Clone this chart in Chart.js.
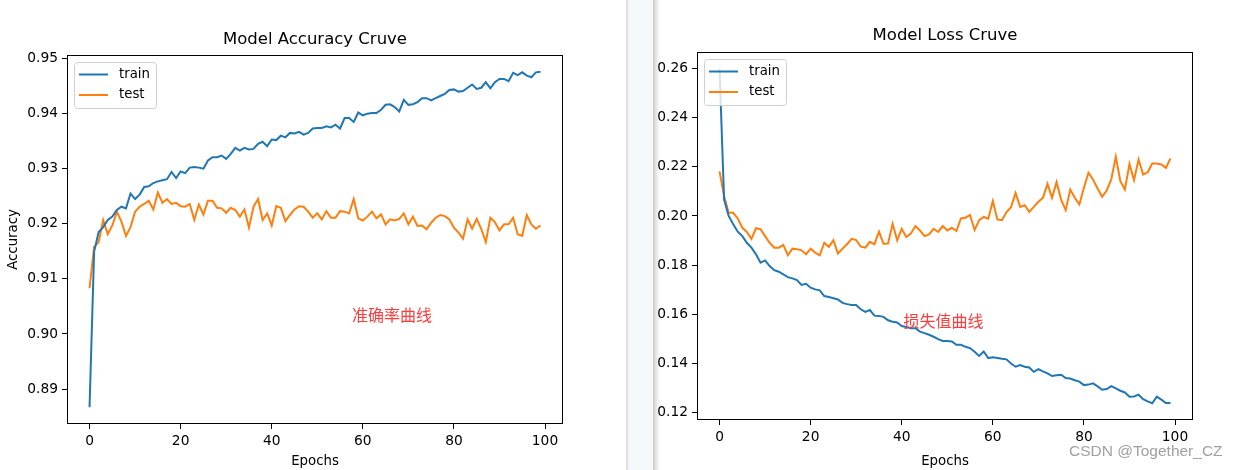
<!DOCTYPE html>
<html>
<head>
<meta charset="utf-8">
<script src="https://cdn.jsdelivr.net/npm/chart.js@4.4.0/dist/chart.umd.min.js"></script>
<style>
html, body { margin: 0; padding: 0; background: #fff; }
body { width: 1240px; height: 470px; position: relative; overflow: hidden; }
#sep { position: absolute; left: 626px; top: 0; width: 34px; height: 470px;
  background: linear-gradient(to right, #d4d7da 0px, #e9eef3 2px, #f6f9fc 4px, #f6f9fc 27px, #c8cacc 27px, #e4e4e4 30px, #ffffff 34px); }
#left { position: absolute; left: 0; top: 0; width: 627px; height: 470px; }
#right { position: absolute; left: 653px; top: 0; width: 587px; height: 470px; }
#mark { position: absolute; left: 1069px; top: 442px; font: 15.5px "Liberation Sans", Arial, sans-serif; color: #a0a0a0; }
</style>
</head>
<body>
<div id="sep"></div>
<div id="left"><canvas id="accChart"></canvas></div>
<div id="right"><canvas id="lossChart"></canvas></div>
<div id="mark">CSDN @Together_CZ</div>
<script>
// epochs 0..99
const epochs = [...Array(100).keys()];

const accTrain = [
  0.8867,0.9149,0.9185,0.9194,0.9207,0.9213,0.9225,0.9231,0.9228,0.9255,
  0.9245,0.9253,0.9267,0.9268,0.9274,0.9277,0.9279,0.9281,0.9294,0.9283,
  0.9295,0.9292,0.9302,0.9303,0.9302,0.9300,0.9315,0.9321,0.9321,0.9324,
  0.9318,0.9327,0.9338,0.9333,0.9338,0.9335,0.9336,0.9345,0.9349,0.9341,
  0.9353,0.9352,0.9360,0.9357,0.9365,0.9364,0.9367,0.9362,0.9365,0.9373,
  0.9374,0.9374,0.9377,0.9375,0.9380,0.9373,0.9392,0.9392,0.9385,0.9402,
  0.9397,0.9400,0.9401,0.9401,0.9407,0.9416,0.9417,0.9412,0.9404,0.9425,
  0.9416,0.9417,0.9421,0.9428,0.9428,0.9424,0.9428,0.9432,0.9436,0.9443,
  0.9444,0.9440,0.9441,0.9447,0.9453,0.9445,0.9447,0.9457,0.9446,0.9457,
  0.9463,0.9463,0.9459,0.9474,0.9470,0.9475,0.9469,0.9466,0.9475,0.9476
];
const accTest = [
  0.9083,0.9158,0.9167,0.9207,0.9181,0.9197,0.9222,0.9204,0.9178,0.9194,
  0.9222,0.9231,0.9236,0.9242,0.9226,0.9257,0.9238,0.9245,0.9236,0.9238,
  0.9232,0.9231,0.9236,0.9207,0.9235,0.9217,0.9242,0.9242,0.9229,0.9228,
  0.9220,0.9229,0.9225,0.9213,0.9226,0.9193,0.9231,0.9245,0.9207,0.9219,
  0.9197,0.9232,0.9229,0.9205,0.9216,0.9226,0.9232,0.9231,0.9222,0.9211,
  0.9219,0.9208,0.9223,0.9211,0.9211,0.9223,0.9222,0.9219,0.9245,0.9210,
  0.9206,0.9213,0.9222,0.9210,0.9217,0.9199,0.9208,0.9206,0.9209,0.9219,
  0.9199,0.9213,0.9196,0.9197,0.9190,0.9202,0.9211,0.9216,0.9214,0.9208,
  0.9193,0.9184,0.9173,0.9208,0.9191,0.9209,0.9191,0.9167,0.9211,0.9203,
  0.9188,0.9199,0.9199,0.9211,0.9181,0.9178,0.9216,0.9199,0.9191,0.9197
];
const lossTrain = [
  0.2600,0.2067,0.2000,0.1966,0.1936,0.1918,0.1891,0.1871,0.1844,0.1810,
  0.1819,0.1796,0.1779,0.1773,0.1762,0.1751,0.1746,0.1739,0.1719,0.1724,
  0.1708,0.1701,0.1697,0.1674,0.1670,0.1665,0.1660,0.1646,0.1641,0.1637,
  0.1637,0.1620,0.1609,0.1617,0.1594,0.1593,0.1589,0.1575,0.1569,0.1566,
  0.1552,0.1548,0.1543,0.1543,0.1529,0.1523,0.1516,0.1508,0.1498,0.1491,
  0.1491,0.1489,0.1475,0.1475,0.1467,0.1462,0.1447,0.1430,0.1448,0.1421,
  0.1424,0.1421,0.1418,0.1416,0.1399,0.1386,0.1393,0.1386,0.1383,0.1365,
  0.1376,0.1367,0.1359,0.1348,0.1351,0.1353,0.1340,0.1338,0.1331,0.1325,
  0.1311,0.1313,0.1318,0.1306,0.1292,0.1295,0.1307,0.1298,0.1288,0.1281,
  0.1264,0.1265,0.1272,0.1254,0.1245,0.1237,0.1264,0.1252,0.1238,0.1238
];
const lossTest = [
  0.2182,0.2081,0.2013,0.2013,0.1990,0.1952,0.1935,0.1907,0.1950,0.1946,
  0.1918,0.1891,0.1871,0.1871,0.1882,0.1840,0.1867,0.1865,0.1860,0.1844,
  0.1867,0.1851,0.1840,0.1891,0.1874,0.1901,0.1847,0.1867,0.1885,0.1907,
  0.1902,0.1875,0.1871,0.1895,0.1885,0.1936,0.1887,0.1888,0.1968,0.1901,
  0.1948,0.1914,0.1928,0.1959,0.1941,0.1918,0.1925,0.1948,0.1935,0.1959,
  0.1941,0.1952,0.1939,0.1990,0.1993,0.2004,0.1943,0.1983,0.1996,0.1989,
  0.2061,0.1986,0.1983,0.2016,0.2036,0.2094,0.2037,0.2044,0.2017,0.2037,
  0.2058,0.2074,0.2131,0.2074,0.2138,0.2067,0.2024,0.2108,0.2074,0.2047,
  0.2115,0.2176,0.2149,0.2112,0.2078,0.2104,0.2149,0.2241,0.2142,0.2108,
  0.2212,0.2146,0.2230,0.2169,0.2178,0.2214,0.2214,0.2210,0.2196,0.2234
];

const xTicks = [0, 20, 40, 60, 80, 100];
const accTicks = [0.89, 0.90, 0.91, 0.92, 0.93, 0.94, 0.95];
const lossTicks = [0.12, 0.14, 0.16, 0.18, 0.20, 0.22, 0.24, 0.26];
const seriesNames = ["train", "test"];

const BLUE = "#1f77b4", ORANGE = "#ff7f0e";
const FONT = "'DejaVu Sans', sans-serif";

// marge de 5% comme matplotlib
function range(arrs) {
  const all = [].concat(...arrs);
  const lo = Math.min(...all), hi = Math.max(...all);
  const m = (hi - lo) * 0.05;
  return [lo - m, hi + m];
}

// cadre, légende et texte rouge
const extras = {
  id: "extras",
  afterDatasetsDraw(chart, args, o) {
    const { ctx, chartArea: a } = chart;
    ctx.save();
    ctx.strokeStyle = "#000";
    ctx.lineWidth = 1;
    ctx.strokeRect(Math.round(a.left) + 0.5, Math.round(a.top) + 0.5,
      Math.round(a.right - a.left) - 1, Math.round(a.bottom - a.top) - 1);

    // légende
    const lx = a.left + o.legendDx, ly = a.top + o.legendDy;
    ctx.beginPath();
    ctx.roundRect(lx + 0.5, ly + 0.5, 82, 46, 3);
    ctx.fillStyle = "rgba(255,255,255,0.8)";
    ctx.fill();
    ctx.strokeStyle = "#d0d0d0";
    ctx.stroke();
    ctx.font = "13.3px " + FONT;
    ctx.textBaseline = "middle";
    chart.data.datasets.forEach((ds, i) => {
      const yy = ly + 12.5 + i * 20.5;
      ctx.strokeStyle = ds.borderColor;
      ctx.lineWidth = 2;
      ctx.beginPath();
      ctx.moveTo(lx + 5, yy);
      ctx.lineTo(lx + 34, yy);
      ctx.stroke();
      ctx.fillStyle = "#000";
      ctx.fillText(ds.label, lx + 45, yy);
    });

    // annotation
    const xs = chart.scales.x, ys = chart.scales.y;
    ctx.font = "16px 'Noto Sans CJK SC', sans-serif";
    ctx.fillStyle = "#ff3b3b";
    ctx.textBaseline = "alphabetic";
    ctx.fillText(o.note, xs.getPixelForValue(o.noteX), ys.getPixelForValue(o.noteY));
    ctx.restore();
  }
};

function makeChart(id, c) {
  const [ymin, ymax] = range([c.train, c.test]);
  return new Chart(document.getElementById(id), {
    type: "line",
    data: {
      datasets: [
        { label: seriesNames[0], data: c.train.map((v, i) => ({ x: epochs[i], y: v })), borderColor: BLUE },
        { label: seriesNames[1], data: c.test.map((v, i) => ({ x: epochs[i], y: v })), borderColor: ORANGE }
      ]
    },
    options: {
      responsive: true,
      maintainAspectRatio: false,
      animation: false,
      layout: { padding: { left: 0, right: c.padRight, top: 0, bottom: 0 } },
      elements: {
        line: { borderWidth: 2, tension: 0 },
        point: { radius: 0 }
      },
      scales: {
        x: {
          type: "linear",
          min: -4.95, max: 103.95,
          afterBuildTicks: s => { s.ticks = xTicks.map(v => ({ value: v })); },
          afterFit: s => { s.height = c.xHeight; },
          grid: { drawOnChartArea: false, drawTicks: true, tickLength: 5, color: "#000" },
          border: { display: false },
          ticks: { color: "#000", font: { family: FONT, size: 13.8 }, padding: 4, maxRotation: 0 },
          title: { display: true, text: "Epochs", color: "#000", font: { family: FONT, size: 13.3 }, padding: { top: c.xTitlePad, bottom: 0 } }
        },
        y: {
          min: ymin, max: ymax,
          afterBuildTicks: s => { s.ticks = c.ticks.map(v => ({ value: v })); },
          afterFit: s => { s.width = c.yWidth; },
          grid: { drawOnChartArea: false, drawTicks: true, tickLength: 5, color: "#000" },
          border: { display: false },
          ticks: { color: "#000", font: { family: FONT, size: 13.8 }, padding: 4, callback: v => v.toFixed(2) },
          title: { display: !!c.yTitle, text: c.yTitle, color: "#000", font: { family: FONT, size: 13.3 }, padding: { top: 6, bottom: 0 } }
        }
      },
      plugins: {
        legend: { display: false },
        tooltip: { enabled: false },
        title: {
          display: true, text: c.title, fullSize: false, color: "#000",
          font: { family: FONT, size: 16.5, weight: "normal" },
          padding: { top: c.titleTop, bottom: c.titleBottom }
        },
        extras: { legendDx: 7, legendDy: 7, note: c.note, noteX: c.noteX, noteY: c.noteY }
      }
    },
    plugins: [extras]
  });
}

makeChart("accChart", {
  train: accTrain, test: accTest, ticks: accTicks,
  title: "Model Accuracy Cruve", yTitle: "Accuracy",
  yWidth: 67, padRight: 64, xHeight: 46, xTitlePad: 3,
  titleTop: 30.1, titleBottom: 5.1,
  note: "准确率曲线", noteX: 57.6, noteY: 0.9024
});

makeChart("lossChart", {
  train: lossTrain, test: lossTest, ticks: lossTicks,
  title: "Model Loss Cruve", yTitle: "",
  yWidth: 44, padRight: 47, xHeight: 50, xTitlePad: 7,
  titleTop: 26.1, titleBottom: 6.1,
  note: "损失值曲线", noteX: 40.4, noteY: 0.1548
});
</script>
</body>
</html>
